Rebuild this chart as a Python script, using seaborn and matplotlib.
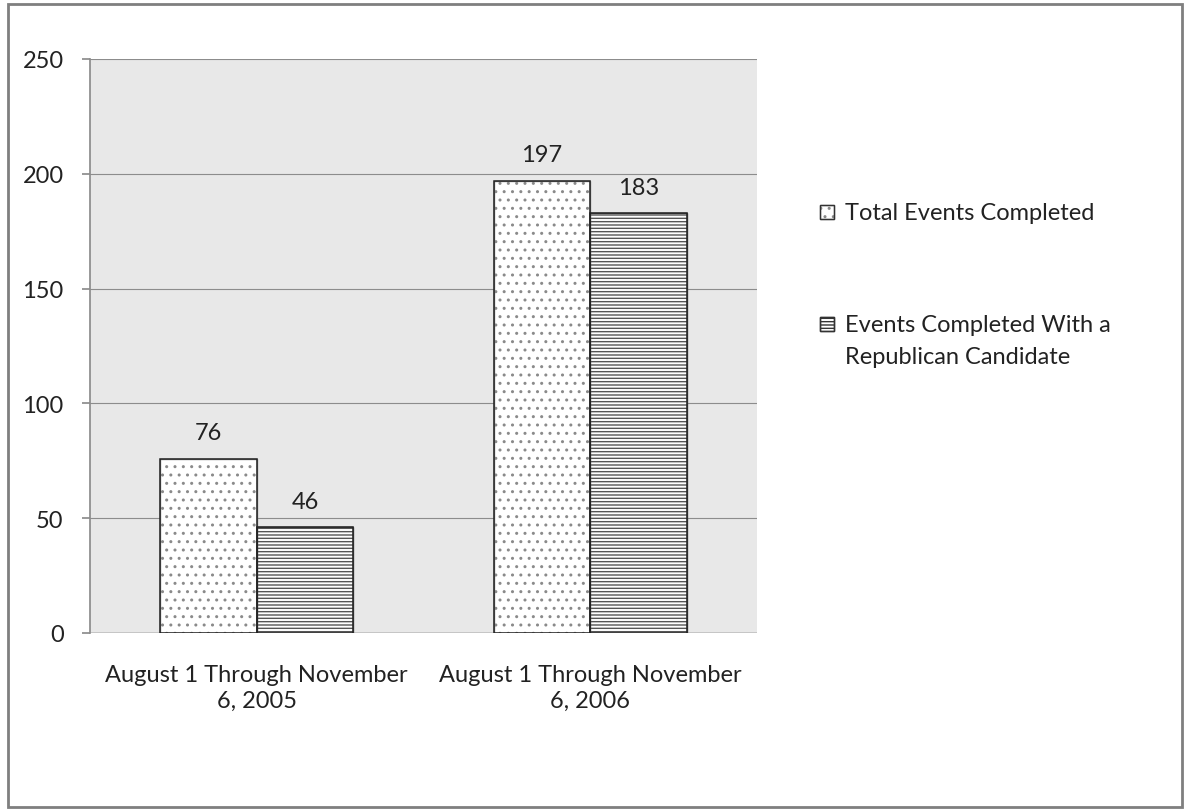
import matplotlib
matplotlib.use("Agg")
import matplotlib.pyplot as plt
import matplotlib.patches as mpatches
import pandas as pd
import seaborn as sns

categories = ["August 1 Through November\n6, 2005", "August 1 Through November\n6, 2006"]
series = ["Total Events Completed", "Events Completed With a\nRepublican Candidate"]
total_events = [76, 197]
republican_events = [46, 183]

df = pd.DataFrame({
    "period": categories * 2,
    "series": [series[0]] * 2 + [series[1]] * 2,
    "events": total_events + republican_events,
})

sns.set_theme(style="white")
plt.rcParams["font.family"] = ["Lato", "DejaVu Sans"]
plt.rcParams["hatch.linewidth"] = 1.0

W, H = 1185, 812
fig = plt.figure(figsize=(W / 100, H / 100), dpi=100)
ax = fig.add_axes([90 / W, 1 - 634 / H, (757 - 90) / W, (634 - 60) / H])
ax.set_facecolor("#e8e8e8")

sns.barplot(data=df, x="period", y="events", hue="series", hue_order=series,
            palette=["white", "white"], edgecolor="black", linewidth=1.0,
            width=0.58, gap=0, ax=ax, legend=False, zorder=3)

# hatch colour follows the edge colour, so hatch in grey and redraw a dark outline
hatches = ["..", "-----"]
hatch_colors = ["#8a8a8a", "#555555"]
for container, hatch, hcol in zip(ax.containers, hatches, hatch_colors):
    for bar in container:
        bar.set_hatch(hatch)
        bar.set_edgecolor(hcol)
        ax.add_patch(mpatches.Rectangle(bar.get_xy(), bar.get_width(), bar.get_height(),
                                        fill=False, edgecolor="#222222", linewidth=1.1,
                                        zorder=4))
    ax.bar_label(container, padding=11, fontsize=17, color="#222222")

ax.set_ylim(0, 250)
ax.set_yticks([0, 50, 100, 150, 200, 250])
ax.yaxis.grid(True, color="#8c8c8c", linewidth=0.8, zorder=0)
ax.set_axisbelow(True)
for side in ["top", "right", "bottom"]:
    ax.spines[side].set_visible(False)
ax.spines["left"].set_color("#8c8c8c")
ax.axhline(0, color="#555555", linewidth=1.0, zorder=2)
ax.tick_params(axis="y", length=6, color="#8c8c8c", pad=13, labelsize=17,
               labelcolor="#222222", left=True)
ax.tick_params(axis="x", length=0, pad=22, labelsize=17, labelcolor="#222222")
for lbl in ax.get_xticklabels():
    lbl.set_linespacing(1.3)
ax.set_xlabel("")
ax.set_ylabel("")

# legend, drawn by hand so the marker sits on the first text line
legend_rows = [(213, "..", "#8a8a8a"), (325, "-----", "#333333")]
for (yc, hatch, hcol), label in zip(legend_rows, series):
    fig.add_artist(mpatches.Rectangle((820 / W, 1 - (yc + 7) / H), 14 / W, 14 / H,
                                      transform=fig.transFigure, facecolor="white",
                                      edgecolor=hcol, hatch=hatch, linewidth=1.0))
    fig.add_artist(mpatches.Rectangle((820 / W, 1 - (yc + 7) / H), 14 / W, 14 / H,
                                      transform=fig.transFigure, fill=False,
                                      edgecolor="#333333", linewidth=1.0))
    fig.text(845 / W, 1 - (yc - 10) / H, label, ha="left", va="top",
             fontsize=17, color="#222222", linespacing=1.65)

fig.add_artist(mpatches.Rectangle((8 / W, 4 / H), 1174 / W, 803 / H,
                                  transform=fig.transFigure, fill=False,
                                  edgecolor="#7f7f7f", linewidth=2))

fig.savefig("out.png", dpi=100)
